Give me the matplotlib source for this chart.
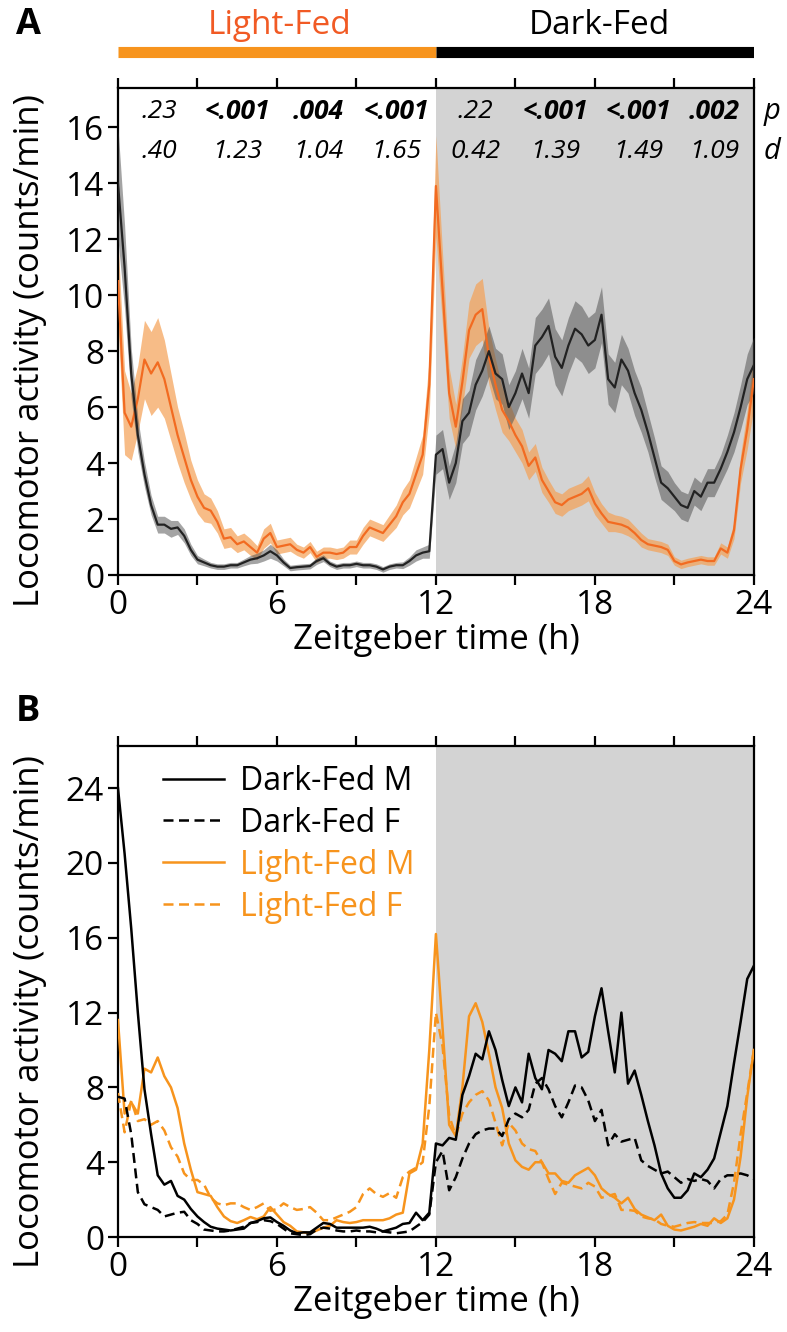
import numpy as np
import matplotlib
matplotlib.use("Agg")
import matplotlib.pyplot as plt
from matplotlib.ticker import MultipleLocator
from matplotlib.transforms import blended_transform_factory

plt.rcParams["font.family"] = ["Open Sans", "DejaVu Sans"]

# ── Data (15-min bins, ZT 0..24) ─────────────────────────────────────────────
zt = np.arange(97) * 0.25

# Panel A: group means and SEM
dark_fed_mean = [
    14.0, 11.0, 7.2, 5.0,   3.6, 2.5, 1.8, 1.8,   1.65, 1.7, 1.4, 0.9,
    0.55, 0.45, 0.35, 0.3,  0.3, 0.35, 0.35, 0.45, 0.55, 0.6, 0.7, 0.85,
    0.7, 0.45, 0.25, 0.28,  0.3, 0.32, 0.5, 0.6,  0.4, 0.3, 0.35, 0.35,
    0.4, 0.35, 0.35, 0.3,   0.2, 0.3, 0.35, 0.35, 0.5, 0.7, 0.8, 0.85,
    4.3, 4.5, 3.3, 4.0,     5.5, 5.8, 6.8, 7.3,   8.0, 7.2, 7.0, 6.0,
    6.5, 7.2, 6.5, 8.2,     8.5, 8.9, 7.8, 7.4,   8.2, 8.8, 8.6, 8.2,
    8.4, 9.3, 7.0, 6.7,     7.7, 7.3, 6.5, 5.9,   5.1, 4.2, 3.3, 3.1,
    2.8, 2.5, 2.4, 3.0,     2.8, 3.3, 3.3, 3.8,   4.4, 5.1, 6.0, 7.0,
    7.5,
]
dark_fed_sem = [
    2.0, 1.5, 0.9, 0.6,     0.45, 0.35, 0.3, 0.3, 0.3, 0.25, 0.25, 0.2,
    0.15, 0.12, 0.1, 0.1,   0.1, 0.1, 0.1, 0.12,  0.15, 0.18, 0.2, 0.25,
    0.2, 0.12, 0.1, 0.1,    0.1, 0.1, 0.12, 0.12, 0.1, 0.1, 0.1, 0.1,
    0.1, 0.1, 0.1, 0.1,     0.1, 0.1, 0.1, 0.12,  0.15, 0.2, 0.2, 0.25,
    0.7, 0.7, 0.6, 0.7,     0.8, 0.8, 0.9, 0.9,   0.9, 0.9, 0.9, 0.8,
    0.8, 0.9, 0.9, 1.0,     1.0, 1.0, 1.0, 1.0,   1.0, 1.0, 1.0, 1.0,
    1.0, 1.0, 0.9, 0.9,     0.9, 0.8, 0.8, 0.8,   0.7, 0.7, 0.6, 0.6,
    0.5, 0.5, 0.5, 0.5,     0.5, 0.5, 0.5, 0.5,   0.6, 0.7, 0.8, 0.9,
    1.0,
]
light_fed_mean = [
    10.5, 5.8, 5.3, 6.3,    7.7, 7.2, 7.6, 7.0,   6.0, 5.0, 4.2, 3.4,
    2.8, 2.4, 2.3, 1.9,     1.3, 1.35, 1.1, 1.2,  1.0, 0.8, 1.3, 1.5,
    1.0, 1.05, 1.1, 0.9,    0.8, 1.0, 0.65, 0.8,  0.8, 0.75, 0.8, 1.0,
    1.0, 1.4, 1.7, 1.6,     1.5, 1.8, 2.1, 2.6,   2.9, 3.6, 4.3, 6.8,
    13.9, 10.2, 6.5, 5.3,   6.9, 8.75, 9.3, 9.5,  7.8, 6.8, 5.9, 5.5,
    5.0, 4.6, 3.9, 4.2,     3.4, 3.0, 2.6, 2.5,   2.7, 2.8, 2.9, 3.1,
    2.55, 2.2, 1.9, 1.85,   1.8, 1.7, 1.5, 1.25,  1.1, 1.05, 1.0, 0.9,
    0.5, 0.38, 0.45, 0.5,   0.55, 0.5, 0.5, 0.95, 0.8, 1.6, 3.8, 5.2,
    7.0,
]
light_fed_sem = [
    1.5, 1.5, 1.2, 1.2,     1.4, 1.5, 1.6, 1.4,   1.2, 1.0, 0.9, 0.7,
    0.6, 0.5, 0.45, 0.4,    0.35, 0.35, 0.3, 0.3, 0.3, 0.25, 0.35, 0.35,
    0.25, 0.25, 0.25, 0.2,  0.2, 0.2, 0.2, 0.2,   0.2, 0.2, 0.2, 0.25,
    0.25, 0.3, 0.3, 0.3,    0.3, 0.35, 0.4, 0.45, 0.5, 0.6, 0.7, 1.0,
    1.8, 1.3, 0.9, 0.8,     0.9, 1.0, 1.1, 1.1,   1.0, 0.9, 0.8, 0.7,
    0.6, 0.6, 0.5, 0.5,     0.45, 0.4, 0.4, 0.4,  0.4, 0.4, 0.4, 0.45,
    0.4, 0.35, 0.35, 0.3,   0.3, 0.3, 0.25, 0.25, 0.2, 0.2, 0.2, 0.2,
    0.15, 0.15, 0.15, 0.15, 0.15, 0.15, 0.15, 0.2, 0.2, 0.3, 0.5, 0.7,
    1.0,
]

# per-bin statistics printed above panel A
p_vals = [".23", "<.001", ".004", "<.001", ".22", "<.001", "<.001", ".002"]
p_bold = [False, True, True, True, False, True, True, True]
d_vals = [".40", "1.23", "1.04", "1.65", "0.42", "1.39", "1.49", "1.09"]

# Panel B: sex-split means
dark_fed_m = [
    24.0, 20.5, 16.5, 12.0, 7.9, 5.5, 3.3, 2.8,   3.0, 2.2, 2.0, 1.5,
    1.1, 0.8, 0.55, 0.45,   0.4, 0.35, 0.4, 0.45, 0.75, 0.85, 1.0, 1.05,
    0.8, 0.6, 0.35, 0.2,    0.25, 0.25, 0.5, 0.75, 0.7, 0.5, 0.5, 0.5,
    0.5, 0.5, 0.55, 0.45,   0.3, 0.4, 0.5, 0.7,   0.75, 1.3, 0.9, 1.3,
    5.0, 4.9, 5.3, 5.2,     7.6, 8.6, 9.8, 9.5,   11.0, 10.0, 8.4, 7.0,
    8.0, 7.2, 9.8, 8.5,     7.9, 10.0, 9.8, 9.4,  11.0, 11.0, 9.6, 9.9,
    11.8, 13.3, 11.0, 8.8,  12.0, 8.2, 8.9, 7.6,  6.2, 4.9, 3.4, 2.6,
    2.1, 2.1, 2.5, 3.4,     3.2, 3.6, 4.2, 5.6,   7.0, 9.3, 11.5, 13.8,
    14.5,
]
dark_fed_f = [
    7.5, 7.4, 5.5, 2.4,     1.75, 1.6, 1.45, 1.1, 1.2, 1.3, 1.35, 0.9,
    0.7, 0.4, 0.35, 0.3,    0.3, 0.35, 0.45, 0.55, 0.75, 0.8, 0.9, 0.85,
    0.7, 0.45, 0.2, 0.15,   0.1, 0.15, 0.4, 0.5,  0.45, 0.35, 0.3, 0.3,
    0.35, 0.3, 0.3, 0.25,   0.3, 0.25, 0.2, 0.25, 0.3, 0.55, 0.8, 1.2,
    4.0, 4.6, 2.5, 3.2,     4.2, 5.0, 5.5, 5.7,   5.8, 5.8, 5.4, 6.3,
    6.6, 6.4, 6.8, 8.2,     8.5, 7.9, 7.0, 6.4,   7.2, 8.1, 8.0, 7.3,
    6.2, 6.8, 4.9, 5.5,     5.1, 5.2, 5.3, 4.1,   3.8, 3.6, 3.4, 3.5,
    3.2, 2.9, 3.1, 3.0,     3.1, 3.0, 2.6, 3.1,   3.3, 3.3, 3.4, 3.3,
    3.1,
]
light_fed_m = [
    11.6, 6.6, 7.2, 6.6,    9.0, 8.8, 9.6, 8.6,   8.0, 6.9, 5.0, 3.6,
    2.4, 2.3, 2.2, 1.6,     1.1, 0.85, 0.75, 0.9, 1.07, 0.95, 1.1, 1.6,
    1.2, 0.8, 0.6, 0.3,     0.25, 0.2, 0.35, 0.5, 0.6, 0.9, 0.8, 0.75,
    0.8, 0.9, 0.9, 0.9,     0.9, 1.0, 1.2, 1.3,   3.4, 3.6, 5.0, 10.0,
    16.2, 11.2, 6.0, 5.4,   8.0, 11.8, 12.5, 11.5, 9.8, 8.0, 6.9, 5.0,
    4.1, 3.75, 3.6, 4.0,    4.0, 3.4, 3.4, 3.0,   2.9, 3.3, 3.5, 3.7,
    3.3, 2.6, 2.3, 2.1,     1.8, 2.1, 1.5, 1.2,   1.05, 0.9, 1.2, 0.6,
    0.4, 0.35, 0.45, 0.55,  0.7, 0.6, 1.0, 0.75,  1.0, 2.0, 4.3, 7.5,
    10.0,
]
light_fed_f = [
    7.7, 5.6, 7.3, 6.2,     6.3, 6.0, 6.2, 5.7,   4.8, 4.3, 3.4, 3.05,
    3.05, 2.8, 2.1, 1.8,    1.7, 1.8, 1.8, 1.6,   1.45, 1.6, 1.8, 1.4,
    1.5, 1.8, 1.6, 1.45,    1.5, 1.6, 1.3, 0.9,   0.9, 1.05, 1.2, 1.35,
    1.6, 2.3, 2.6, 2.3,     2.15, 2.35, 2.1, 3.2, 3.5, 3.7, 4.0, 7.0,
    12.0, 10.2, 6.5, 5.4,   6.6, 7.2, 7.6, 7.8,   7.3, 6.1, 4.9, 6.1,
    5.7, 5.0, 4.7, 4.6,     4.0, 3.1, 2.3, 2.9,   2.8, 2.7, 2.6, 2.9,
    2.7, 2.1, 2.2, 2.3,     1.45, 1.45, 1.4, 1.1, 1.0, 0.95, 0.7, 0.6,
    0.55, 0.65, 0.75, 0.8,  0.75, 0.75, 0.75, 0.85, 1.2, 2.9, 5.5, 7.7,
    10.0,
]

# ── Styling ──────────────────────────────────────────────────────────────────
ORANGE_A = "#f26b21"
ORANGE_A_FILL = "#f5a054"
ORANGE_B = "#f7941d"
TITLE_ORANGE = "#f15a24"
SHADE = "#d3d3d3"
TICK_FS = 24
LABEL_FS = 25


def style_axes(ax, ymax, ystep):
    ax.axvspan(12, 24, color=SHADE, lw=0, zorder=0)
    ax.set_xlim(0, 24)
    ax.set_ylim(0, ymax)
    ax.xaxis.set_major_locator(MultipleLocator(6))
    ax.xaxis.set_minor_locator(MultipleLocator(3))
    ax.yaxis.set_major_locator(MultipleLocator(ystep))
    ax.tick_params(which="both", direction="out", length=7, width=1.6,
                   top=True, right=False, labelsize=TICK_FS, pad=3)
    for s in ax.spines.values():
        s.set_linewidth(1.6)
    ax.set_xlabel("Zeitgeber time (h)", fontsize=LABEL_FS, labelpad=1)
    ax.set_ylabel("Locomotor activity (counts/min)", fontsize=LABEL_FS)
    ax.yaxis.set_label_coords(-0.112, 0.46)


fig = plt.figure(figsize=(7.87, 13.32), dpi=100)

# ── Panel A ──────────────────────────────────────────────────────────────────
axA = fig.add_axes([0.1499, 0.5683, 0.808, 0.3656])
style_axes(axA, 17.4, 2)

df_m = np.array(dark_fed_mean)
df_s = np.array(dark_fed_sem)
lf_m = np.array(light_fed_mean)
lf_s = np.array(light_fed_sem)

axA.fill_between(zt, lf_m - lf_s, lf_m + lf_s, color=ORANGE_A_FILL,
                 alpha=0.7, lw=0, zorder=2)
axA.fill_between(zt, df_m - df_s, df_m + df_s, color="#4a4a4a",
                 alpha=0.5, lw=0, zorder=3)
axA.plot(zt, lf_m, color=ORANGE_A, lw=1.6, zorder=4)
axA.plot(zt, df_m, color="#222222", lw=1.6, zorder=5)

# statistics rows, one column per 3-h bin
col_x = [1.55, 4.5, 7.55, 10.5, 13.5, 16.5, 19.65, 22.5]
trA = blended_transform_factory(axA.transData, axA.transAxes)
for x, p, b, d in zip(col_x, p_vals, p_bold, d_vals):
    axA.text(x, 0.952, p, transform=trA, ha="center", va="center",
             fontsize=19, style="italic",
             fontweight="bold" if b else "normal", zorder=6)
    axA.text(x, 0.870, d, transform=trA, ha="center", va="center",
             fontsize=19, style="italic", zorder=6)
axA.text(1.016, 0.952, "p", transform=axA.transAxes, ha="left", va="center",
         fontsize=21, style="italic")
axA.text(1.016, 0.870, "d", transform=axA.transAxes, ha="left", va="center",
         fontsize=21, style="italic")

# feeding-phase bar above panel A
axBar = fig.add_axes([0.1499, 0.955, 0.808, 0.012])
axBar.set_xlim(0, 24)
axBar.set_ylim(0, 1)
axBar.axis("off")
axBar.hlines(0.5, 0, 12, color=ORANGE_B, lw=8)
axBar.hlines(0.5, 12, 24, color="black", lw=8)
fig.text(0.355, 0.981, "Light-Fed", color=TITLE_ORANGE, fontsize=24,
         ha="center", va="center")
fig.text(0.762, 0.981, "Dark-Fed", color="black", fontsize=24,
         ha="center", va="center")

fig.text(0.036, 0.981, "A", fontsize=26, fontweight="bold",
         ha="center", va="center")
fig.text(0.036, 0.4655, "B", fontsize=26, fontweight="bold",
         ha="center", va="center")

# ── Panel B ──────────────────────────────────────────────────────────────────
axB = fig.add_axes([0.1499, 0.0713, 0.808, 0.3686])
style_axes(axB, 26.25, 4)

dash = (0, (4, 2.2))
axB.plot(zt, dark_fed_m, color="black", lw=1.8, label="Dark-Fed M", zorder=4)
axB.plot(zt, dark_fed_f, color="black", lw=1.8, ls=dash, label="Dark-Fed F",
         zorder=4)
axB.plot(zt, light_fed_m, color=ORANGE_B, lw=1.8, label="Light-Fed M",
         zorder=3)
axB.plot(zt, light_fed_f, color=ORANGE_B, lw=1.8, ls=dash,
         label="Light-Fed F", zorder=3)

axB.legend(loc="upper left", bbox_to_anchor=(0.071, 0.962), frameon=False,
           fontsize=23, handlelength=1.9, handletextpad=0.5,
           labelspacing=0.28, borderpad=0, borderaxespad=0,
           labelcolor=["black", "black", ORANGE_B, ORANGE_B])

fig.savefig("out.png", dpi=100)
